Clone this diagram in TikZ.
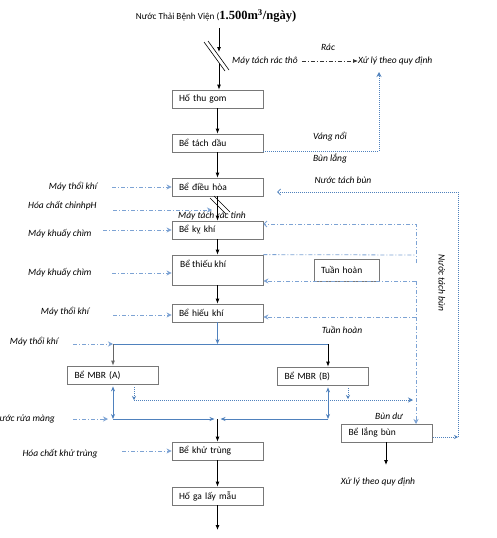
\documentclass[tikz,border=0pt]{standalone}
\usepackage{fontspec}
\setmainfont{Carlito}
\newfontfamily\tnr{Liberation Serif}
\usetikzlibrary{arrows.meta,calc}
\definecolor{bline}{RGB}{79,129,189}
\definecolor{dline}{RGB}{125,163,212}
\definecolor{boxgray}{RGB}{120,120,120}
\tikzset{
  box/.style={draw=boxgray,line width=0.8pt,rectangle,minimum height=18pt,text width=77pt,inner xsep=7pt,inner ysep=0pt,align=left,font=\fontsize{9.5}{11}\selectfont},
  lbl/.style={font=\fontsize{9.5}{11}\selectfont\itshape,inner sep=0pt},
  blk/.style={draw=black,line width=0.8pt,-{Latex[length=5pt,width=4pt]}},
  blkl/.style={draw=black,line width=0.8pt},
  dd/.style={draw=dline,line width=0.8pt,dash pattern=on 4pt off 2pt on 1pt off 2pt},
  ddarr/.style={dd,-{Stealth[length=5pt,width=5pt]}},
  ddopen/.style={dd,-{Straight Barb[length=3pt,width=6pt]}},
  dots/.style={draw=bline,line width=0.8pt,dash pattern=on 1pt off 1pt},
  sol/.style={draw=bline,line width=0.8pt},
  solarr/.style={sol,-{Stealth[length=5pt,width=4pt]}},
  solboth/.style={sol,{Stealth[length=5pt,width=4pt]}-{Stealth[length=5pt,width=4pt]}},
}
\begin{document}
\begin{tikzpicture}[x=1pt,y=-1pt]
\useasboundingbox (0,0) rectangle (496,538);
\fill[white] (0,0) rectangle (496,538);

% title
\node[inner sep=0pt] (title) at (216,16) {\fontsize{9.2}{11}\selectfont Nước Thải Bệnh Viện (\tnr\bfseries\fontsize{12.5}{13}\selectfont 1.500m\textsuperscript{3}/ngày)};

% boxes
\node[box,minimum width=91pt] (ho) at (217.5,99) {Hố thu gom};
\node[box] (td) at (217.5,143) {Bể tách dầu};
\node[box] (dh) at (217.5,187) {Bể điều hòa};
\node[box] (kk) at (217.5,230) {Bể kỵ khí};
\node[box,minimum height=30pt] (tk) at (217.5,270) {};
\node[lbl,font=\fontsize{9.5}{11}\selectfont,anchor=west] (tkt) at (180,264) {Bể thiếu khí};
\node[box] (hk) at (217.5,313) {Bể hiếu khí};
\node[box] (mA) at (113,375) {Bể MBR (A)};
\node[box] (mB) at (323,376) {Bể MBR (B)};
\node[box] (kt) at (217.5,451) {Bể khử trùng};
\node[box] (hg) at (217.5,496) {Hố ga lấy mẫu};
\node[box] (lb) at (387,433) {Bể lắng bùn};
\node[box,text width=51pt,minimum height=22pt] (th) at (346.5,270) {Tuần hoàn};

% top inflow and coarse screen
\coordinate (t1) at (219,28);
\coordinate (t2) at (219,52);
\coordinate (t3) at (219,64);
\draw[blk] (t1) -- (t2);
\draw[blk] (t3) -- (ho.north -| t3);
\draw[blkl,line width=0.6pt] (204,42) -- (225,71);
\draw[blkl,line width=0.6pt] (208,41) -- (229,70);
\node[lbl] (mtrt) at (265,61) {Máy tách rác thô};
\node[lbl,anchor=west] (xl1) at (358,61) {Xử lý theo quy định};
\node[lbl] (rac) at (328,47) {Rác};
\draw[draw=black!80,line width=0.7pt,dash pattern=on 4pt off 2pt on 1pt off 2pt,-{Latex[length=5pt,width=4pt]}] ($(mtrt.east)+(4,0)$) -- (xl1.west);

% main chain
\draw[blk] (ho.south) -- (td.north);
\draw[blk] (td.south) -- (dh.north);
\draw[blk] (dh.south) -- (kk.north);
\draw[blk] (kk.south) -- (tk.north);
\draw[blk] (tk.south) -- (hk.north);
\draw[blk] (kt.south) -- (hg.north);
\coordinate (outf) at (217.5,530);
\draw[blk] (hg.south) -- (outf);

% vang noi
\coordinate (vn1) at (379,151);
\coordinate (vn2) at (379,72);
\draw[dots,-{Stealth[length=5pt,width=5pt]}] (td.east |- vn1) -- (vn1) -- (vn2);
\node[lbl] (vn) at (330,137) {Váng nổi};
\node[lbl] (bl) at (330,159) {Bùn lắng};
\node[lbl] (ntbl) at (343,180) {Nước tách bùn};

% fine screen
\draw[blkl,line width=0.6pt] (210,198) -- (226,214);
\draw[blkl,line width=0.6pt] (214,196) -- (230,212);
\node[lbl] (mtrtinh) at (212,216) {Máy tách rác tinh};

% left inputs
\node[lbl] (i1) at (73,187) {Máy thổi khí};
\draw[ddarr] (112,187) -- (dh.west);
\node[lbl,anchor=west] (i2) at (28,206) {Hóa chất chỉnhpH};
\coordinate (i2e) at (212,210);
\draw[ddarr] (113,210) -- (i2e);
\node[lbl,anchor=west] (i3) at (28,234) {Máy khuấy chìm};
\draw[ddarr] (103,230) -- (kk.west);
\node[lbl,anchor=west] (i4) at (28,273) {Máy khuấy chìm};
\draw[ddarr] (112,273) -- (tk.west |- 0,273);
\node[lbl] (i5) at (65,312) {Máy thổi khí};
\draw[ddarr] (113,315) -- (hk.west |- 0,315);
\node[lbl] (i6) at (34,342) {Máy thổi khí};
\coordinate (aj) at (113,344);
\coordinate (bj) at (328,344);
\draw[ddarr] (73,344) -- (aj);
\node[lbl,anchor=east] (i7) at (55,419) {Nước rửa màng};
\coordinate (wa) at (113,419);
\coordinate (wb) at (328,419);
\coordinate (wm) at (217.5,419);
\draw[ddarr] (73,419) -- ($(wa)+(-5,0)$);
\node[lbl] (i8) at (60,454) {Hóa chất khử trùng};
\draw[ddarr] (122,451) -- (kt.west);

% MBR feed
\draw[solarr] (hk.south) -- (hk.south |- aj);
\draw[sol] (aj) -- (bj);
\draw[draw=black!60,line width=0.8pt,-{Latex[length=5pt,width=4pt]}] (aj) -- (mA.north -| aj);
\draw[blk] (bj) -- (mB.north -| bj);

% MBR outlet
\draw[solboth] ($(mA.south -| wa)+(0,2)$) -- (wa);
\draw[solboth] ($(mB.south -| wb)+(0,2)$) -- (wb);
\draw[solarr] (wa) -- ($(wm)+(-3,0)$);
\draw[solarr] (wb) -- ($(wm)+(3,0)$);
\draw[blk] (wm) -- (kt.north);

% excess sludge
\coordinate (sa) at (134,400);
\coordinate (sb) at (348,399);
\coordinate (se) at (413,400);
\draw[dots,-{Stealth[length=4pt,width=4pt]}] ($(mA.south -| sa)+(0,3)$) -- (sa);
\draw[dots,-{Stealth[length=4pt,width=4pt]}] ($(mB.south -| sb)+(0,3)$) -- (sb);
\draw[dots,-{Stealth[length=5pt,width=5pt]}] (sa) -- (se);
\node[lbl] (bd) at (389,416) {Bùn dư};

% recirculation
\coordinate (r1) at (416,255);
\coordinate (r2) at (416,263);
\coordinate (r3) at (416,224);
\draw[dd] (tk.north east) -- (r1);
\draw[ddopen] (r2) -- (r3) -- (kk.east |- r3);
\coordinate (r4) at (416,281);
\coordinate (r5) at (416,317);
\draw[ddarr] (r4) -- (416,424);
\draw[ddarr] (r4) -- (tk.east |- r4);
\draw[ddarr] (r5) -- (hk.east |- r5);
\node[lbl] (thl) at (342,330) {Tuần hoàn};

% sludge water return
\coordinate (n1) at (458,437);
\coordinate (n2) at (458,192);
\coordinate (n3) at (277,192);
\draw[dots,-{Stealth[length=4pt,width=4pt]}] (lb.east |- n1) -- (n1);
\draw[dots,-{Straight Barb[length=3pt,width=6pt]}] (n1) -- (n2) -- (n3);
\node[lbl,rotate=-90] (ntbv) at (442,283) {Nước tách bùn};

% sludge disposal
\coordinate (lbo) at (386,465);
\draw[blk] (lb.south -| lbo) -- (lbo);
\node[lbl] (xl2) at (378,482) {Xử lý theo quy định};
\end{tikzpicture}
\end{document}
